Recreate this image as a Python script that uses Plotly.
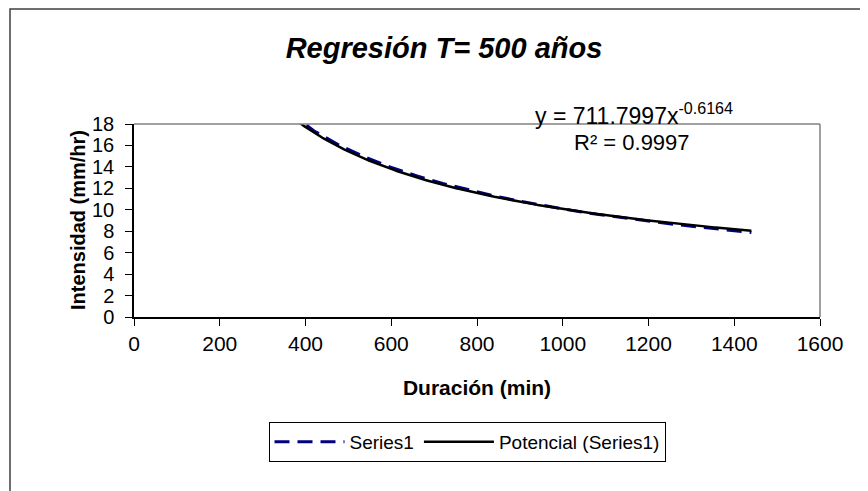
import numpy as np
import plotly.graph_objects as go

# Data
duracion = [360, 420, 480, 540, 600, 660, 720, 780, 840, 900, 960, 1020,
            1080, 1140, 1200, 1260, 1320, 1380, 1440]
intensidad = [19.2, 17.35, 16.0, 14.9, 13.95, 13.15, 12.45, 11.85, 11.3, 10.8,
              10.35, 9.95, 9.58, 9.25, 8.92, 8.64, 8.38, 8.13, 7.88]

# Power trendline coefficients shown on the chart
coef_a = 711.7997
coef_b = -0.6164
r2 = 0.9997

x_ticks = [0, 200, 400, 600, 800, 1000, 1200, 1400, 1600]
y_ticks = [0, 2, 4, 6, 8, 10, 12, 14, 16, 18]

FONT = "Liberation Sans, Arial, sans-serif"

xt = np.linspace(min(duracion), max(duracion), 300)
yt = coef_a * xt ** coef_b

fig = go.Figure()
fig.add_trace(go.Scatter(
    x=duracion, y=intensidad, mode="lines", name="Series1",
    line=dict(color="#000080", width=3, dash="15px,8px"),
))
fig.add_trace(go.Scatter(
    x=xt, y=yt, mode="lines", name="Potencial (Series1)",
    line=dict(color="#000000", width=2.5),
))

OFF = 8                      # page body margin
W, H = 868 - OFF, 491 - OFF  # figure size
# plot area in screenshot pixels
Ls, Rs, Ts, Bs = 134, 820, 124, 317
pw, ph = Rs - Ls, Bs - Ts


def px(x):
    return (x - Ls) / pw


def py(y):
    return (Bs - y) / ph


fig.update_layout(
    width=W, height=H,
    margin=dict(l=Ls - OFF, r=W - (Rs - OFF), t=Ts - OFF, b=H - (Bs - OFF), pad=0),
    paper_bgcolor="white", plot_bgcolor="white",
    font=dict(family=FONT, color="black", size=20),
    title=dict(text="<b><i>Regresión T= 500 años</i></b>",
               font=dict(size=29, family=FONT, color="black"),
               x=(444 - OFF) / W, xanchor="center",
               y=1 - (48 - OFF) / H, yanchor="middle"),
    showlegend=True,
    legend=dict(orientation="h", x=px(467), xanchor="center",
                y=py(442), yanchor="middle",
                bordercolor="#000000", borderwidth=1, bgcolor="white",
                font=dict(size=19, family=FONT), itemwidth=70,
                tracegroupgap=0),
    xaxis=dict(range=[0, 1600], tickvals=x_ticks, ticktext=[str(v) for v in x_ticks],
               showgrid=False, zeroline=False, showline=True, linecolor="black",
               linewidth=1.5, ticks="outside", ticklen=7, tickwidth=1,
               tickcolor="black", tickfont=dict(size=21, family=FONT),
               ticklabelstandoff=0,
               title=dict(text="<b>Duración (min)</b>", font=dict(size=21, family=FONT),
                          standoff=26)),
    yaxis=dict(range=[0, 18], tickvals=y_ticks, ticktext=[str(v) for v in y_ticks],
               showgrid=False, zeroline=False, showline=True, linecolor="black",
               linewidth=1.5, ticks="outside", ticklen=7, tickwidth=1,
               tickcolor="black", tickfont=dict(size=20, family=FONT),
               ticklabelstandoff=7),
    shapes=[
        # plot area frame (top/right gray)
        dict(type="line", xref="paper", yref="paper", x0=0, x1=1, y0=1, y1=1,
             line=dict(color="#808080", width=1.5)),
        dict(type="line", xref="paper", yref="paper", x0=1, x1=1, y0=0, y1=1,
             line=dict(color="#808080", width=1.5)),
        # outer chart frame
        dict(type="rect", xref="paper", yref="paper", layer="below",
             x0=px(10), x1=px(861), y0=py(498), y1=py(9),
             line=dict(color="#404040", width=1.5)),
    ],
    annotations=[
        dict(xref="paper", yref="paper", x=px(78), y=py(220), xanchor="center",
             yanchor="middle", showarrow=False, textangle=-90,
             text="<b>Intensidad (mm/hr)</b>",
             font=dict(size=20, family=FONT, color="black")),
        dict(xref="paper", yref="paper", x=px(634), y=py(114), xanchor="center",
             yanchor="middle", showarrow=False,
             text=f"y = {coef_a:.4f}x<sup>{coef_b:.4f}</sup>",
             font=dict(size=23, family=FONT, color="black")),
        dict(xref="paper", yref="paper", x=px(632), y=py(142), xanchor="center",
             yanchor="middle", showarrow=False,
             text=f"R² = {r2:.4f}",
             font=dict(size=22, family=FONT, color="black")),
    ],
)

fig.write_html("out.html")
